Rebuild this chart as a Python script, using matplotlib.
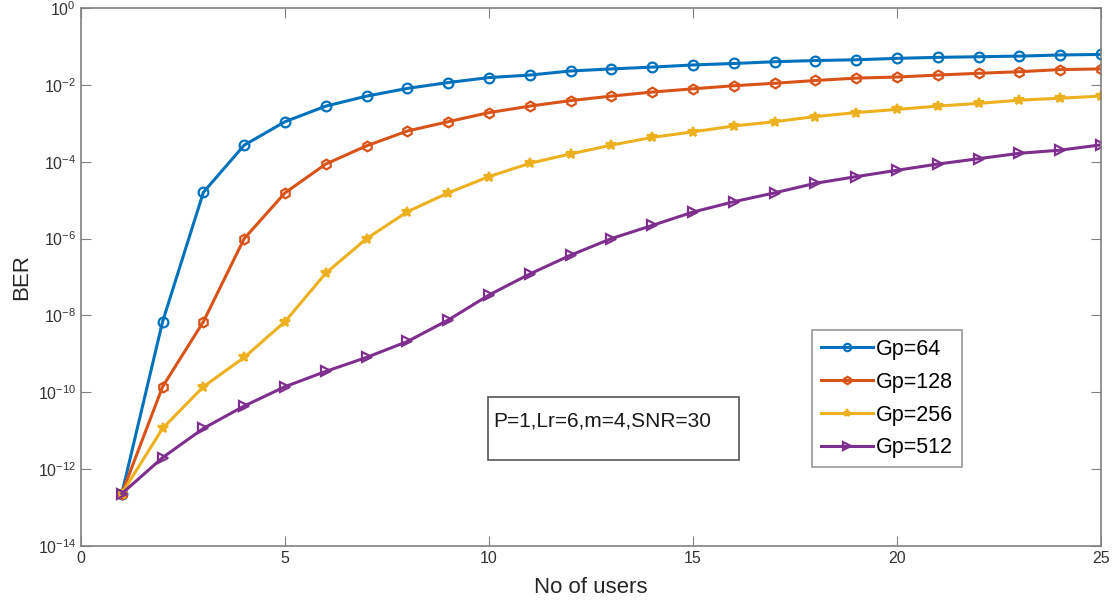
import matplotlib.pyplot as plt
from matplotlib.patches import Rectangle

plt.rcParams['font.family'] = ['Liberation Sans', 'DejaVu Sans']

users = list(range(1, 26))

ber_gp64 = [2.3e-13, 6.9e-9, 1.6e-5, 2.7e-4, 1.1e-3, 2.8e-3, 5.1e-3, 8.1e-3, 1.15e-2, 1.55e-2,
            1.8e-2, 2.3e-2, 2.6e-2, 2.9e-2, 3.3e-2, 3.6e-2, 4.0e-2, 4.3e-2, 4.5e-2, 4.9e-2,
            5.2e-2, 5.4e-2, 5.6e-2, 6.0e-2, 6.2e-2]
ber_gp128 = [2.3e-13, 1.4e-10, 6.9e-9, 1.0e-6, 1.55e-5, 8.7e-5, 2.6e-4, 6.3e-4, 1.1e-3, 1.9e-3,
             2.8e-3, 3.9e-3, 5.1e-3, 6.5e-3, 7.9e-3, 9.5e-3, 1.1e-2, 1.3e-2, 1.5e-2, 1.6e-2,
             1.8e-2, 2.0e-2, 2.2e-2, 2.5e-2, 2.6e-2]
ber_gp256 = [2.3e-13, 1.15e-11, 1.4e-10, 8.1e-10, 6.9e-9, 1.26e-7, 1.0e-6, 5.0e-6, 1.55e-5, 4.1e-5,
             9.1e-5, 1.6e-4, 2.7e-4, 4.3e-4, 6.0e-4, 8.5e-4, 1.1e-3, 1.5e-3, 1.9e-3, 2.3e-3,
             2.8e-3, 3.3e-3, 4.0e-3, 4.5e-3, 5.1e-3]
ber_gp512 = [2.3e-13, 2.0e-12, 1.15e-11, 4.4e-11, 1.4e-10, 3.5e-10, 8.1e-10, 2.1e-9, 7.6e-9, 3.4e-8,
             1.2e-7, 3.7e-7, 1.0e-6, 2.2e-6, 4.9e-6, 9.1e-6, 1.55e-5, 2.75e-5, 4.1e-5, 6.0e-5,
             8.7e-5, 1.2e-4, 1.66e-4, 2.0e-4, 2.75e-4]

labels = ['Gp=64', 'Gp=128', 'Gp=256', 'Gp=512']
colors = ['#0072BD', '#D95319', '#EDB120', '#7E2F8E']
markers = ['o', 'h', '*', '>']
series = [ber_gp64, ber_gp128, ber_gp256, ber_gp512]

fig = plt.figure(figsize=(11.14, 6.12), dpi=100)
ax = fig.add_axes([0.0727, 0.1078, 0.9156, 0.8791])

for ber, lab, c, m in zip(series, labels, colors, markers):
    mfc = c if m == '*' else 'none'
    ax.semilogy(users, ber, color=c, marker=m, markersize=7, markerfacecolor=mfc,
                markeredgewidth=1.6, linewidth=2.2, label=lab)

ax.set_xlim(0, 25)
ax.set_ylim(1e-14, 1e0)
ax.set_xticks([0, 5, 10, 15, 20, 25])
ax.set_yticks([10.0**k for k in range(-14, 1, 2)])
ax.minorticks_off()
ax.tick_params(which='both', direction='in', top=True, right=True, length=7,
               colors='#808080', labelcolor='#333333', labelsize=11.5)
for s in ax.spines.values():
    s.set_color('#808080')
    s.set_linewidth(1.2)

ax.set_xlabel('No of users', fontsize=16, color='#262626', labelpad=8)
ax.set_ylabel('BER', fontsize=16, color='#262626', labelpad=4)

leg = ax.legend(loc='upper left', bbox_to_anchor=(0.717, 0.401), fontsize=15.5,
                frameon=True, fancybox=False, edgecolor='#808080', markerscale=0.75,
                handlelength=2.4, handletextpad=0.15, borderpad=0.4, labelspacing=0.55,
                borderaxespad=0)
leg.get_frame().set_linewidth(1.2)

ax.add_patch(Rectangle((0.399, 0.160), 0.246, 0.117, transform=ax.transAxes,
                       fill=False, edgecolor='#555555', linewidth=1.2))
ax.text(0.404, 0.232, 'P=1,Lr=6,m=4,SNR=30', transform=ax.transAxes,
        fontsize=15, color='#1a1a1a', va='center', ha='left')

plt.savefig('out.png', dpi=100)
